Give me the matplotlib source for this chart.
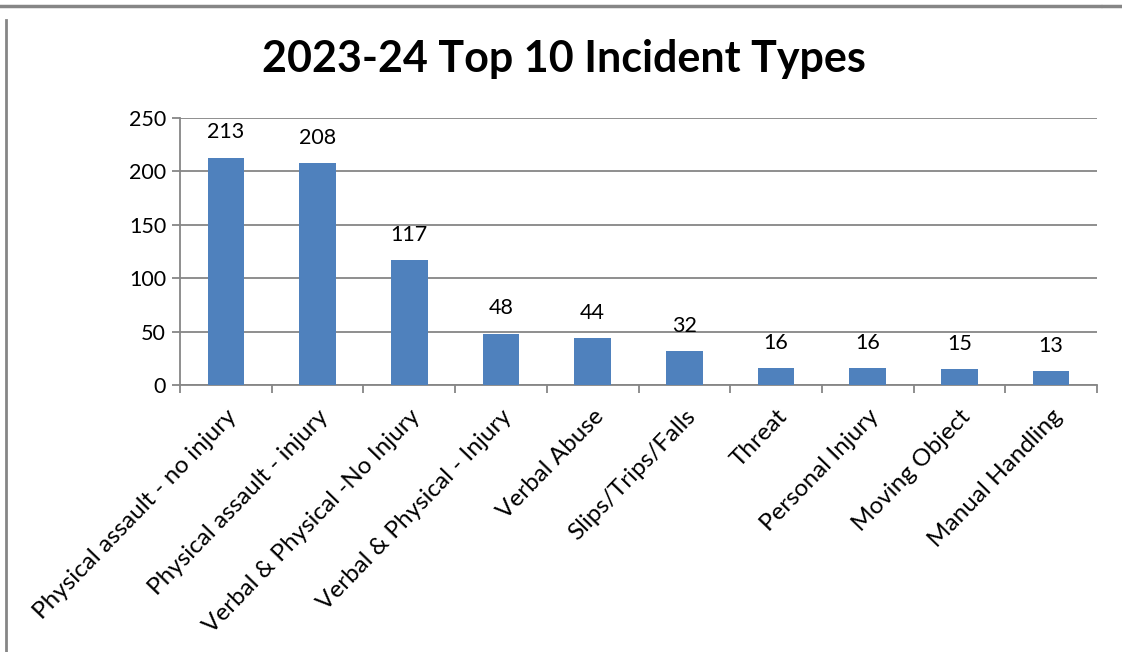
import numpy as np
import matplotlib
matplotlib.use("Agg")
from matplotlib import pyplot as plt
from matplotlib.lines import Line2D

categories = ["Physical assault - no injury", "Physical assault - injury",
              "Verbal & Physical -No Injury", "Verbal & Physical - Injury",
              "Verbal Abuse", "Slips/Trips/Falls", "Threat", "Personal Injury",
              "Moving Object", "Manual Handling"]
counts = [213, 208, 117, 48, 44, 32, 16, 16, 15, 13]
yticks = [0, 50, 100, 150, 200, 250]
title = "2023-24 Top 10 Incident Types"

plt.rcParams['font.family'] = ['Lato', 'DejaVu Sans']
grey = "#868686"

fig = plt.figure(figsize=(11.22, 6.52), dpi=100)
W, H = 1122, 652
ax = fig.add_axes([180 / W, 1 - 385 / H, (1097 - 180) / W, (385 - 118) / H])

x = np.arange(len(categories))
ax.bar(x, counts, width=0.4, color="#4F81BD", zorder=3)
for xi, v in zip(x, counts):
    ax.annotate(str(v), (xi, v), xytext=(0, 11), textcoords="offset points",
                ha="center", va="bottom", fontsize=15.5)

ax.set_xlim(-0.5, len(categories) - 0.5)
ax.set_ylim(0, 250)
ax.set_yticks(yticks)
ax.set_yticklabels([str(t) for t in yticks], fontsize=15.5)
ax.yaxis.grid(True, color=grey, linewidth=1.3, zorder=0)
ax.tick_params(axis="y", length=6, width=1.3, color=grey, pad=4)

# category boundaries carry the tick marks, labels sit at the centres
ax.set_xticks(np.arange(len(categories) + 1) - 0.5)
ax.set_xticklabels([])
ax.tick_params(axis="x", length=6, width=1.3, color=grey)
ax.set_xticks(x, minor=True)
ax.set_xticklabels(categories, minor=True, rotation=46, ha="right",
                   rotation_mode="anchor", fontsize=17.5)
ax.tick_params(axis="x", which="minor", length=0, pad=15)

for side in ["top", "right"]:
    ax.spines[side].set_visible(False)
for side in ["left", "bottom"]:
    ax.spines[side].set_color(grey)
    ax.spines[side].set_linewidth(1.3)

fig.text(564 / W, 1 - 59 / H, title, ha="center", va="center",
         fontsize=31, fontweight="bold")

# outer frame of the pasted chart
fig.add_artist(Line2D([0, 1100 / W], [1 - 6 / H] * 2, color=grey, lw=2.5))
fig.add_artist(Line2D([1103 / W, 1], [1 - 6 / H] * 2, color=grey, lw=2.5))
fig.add_artist(Line2D([6 / W] * 2, [0, 1 - 20 / H], color=grey, lw=2))

fig.savefig("out.png", dpi=100)
